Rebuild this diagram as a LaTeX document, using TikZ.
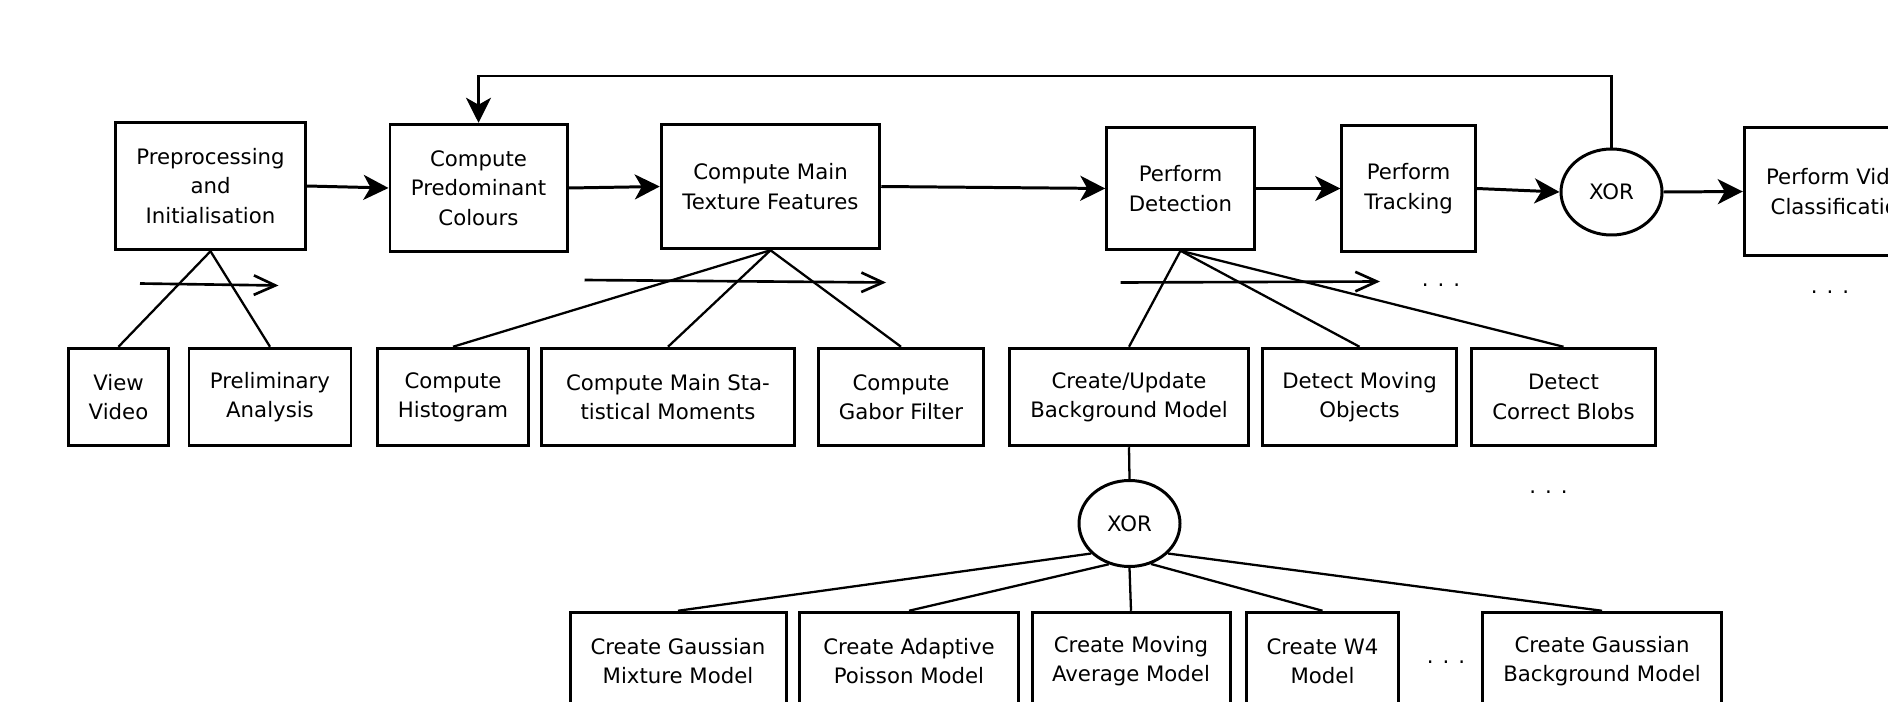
\documentclass[tikz,border=0pt]{standalone}
\usepackage{fontspec}
\setmainfont{DejaVu Sans}
\usepackage{tikz}
\usetikzlibrary{arrows.meta,shapes.geometric}

\tikzset{
  box/.style={draw, line width=1.7pt, align=center, inner sep=0pt,
    font={\fontsize{12.1}{16.7}\selectfont}},
  leaf/.style={box, minimum height=1.95cm},
  xorgate/.style={draw, ellipse, line width=1.7pt, inner sep=0pt,
    minimum width=2.02cm, minimum height=1.72cm,
    font={\fontsize{12.1}{16.7}\selectfont}},
  flow/.style={line width=1.7pt, -{Stealth[length=0.5cm,width=0.5cm,inset=0.14cm]}},
  seq/.style={line width=1.5pt, -{Straight Barb[length=0.43cm,width=0.39cm]}},
  tree/.style={line width=1.3pt},
  dots/.style={anchor=base, font={\fontsize{12.1}{16.7}\selectfont}}
}

\begin{document}
\begin{tikzpicture}
    \useasboundingbox (0,0) rectangle (37.76,14.02);
    \clip (0,0) rectangle (37.76,14.02);

    % Main steps
    \node[box, minimum width=3.79cm, minimum height=2.55cm] (pre) at (4.21,10.30) {Preprocessing\\and\\Initialisation};
    \node[box, minimum width=3.54cm, minimum height=2.55cm] (col) at (9.57,10.26) {Compute\\Predominant\\Colours};
    \node[box, minimum width=4.37cm, minimum height=2.49cm] (tex) at (15.41,10.29) {Compute Main\\Texture Features};
    \node[box, minimum width=2.95cm, minimum height=2.43cm] (det) at (23.61,10.25) {Perform\\Detection};
    \node[box, minimum width=2.67cm, minimum height=2.53cm] (trk) at (28.17,10.25) {Perform\\Tracking};
    \node[xorgate] (xor1) at (32.23,10.18) {XOR};
    \node[box, minimum width=3.87cm, minimum height=2.55cm] (cls) at (36.82,10.19) {Perform Video\\Classification};

    \draw[flow] (pre.east) -- (col.west);
    \draw[flow] (col.east) -- (tex.west);
    \draw[flow] (tex.east) -- (det.west);
    \draw[flow] (det.east) -- (trk.west);
    \draw[flow] (trk.east) -- (xor1.west);
    \draw[flow] (xor1.east) -- (cls.west);
    \draw[flow] (xor1.north) |- (9.57,12.50) -- (col.north);

    % Sub steps
    \node[leaf, minimum width=1.99cm] (vid) at (2.37,6.08) {View\\Video};
    \node[leaf, minimum width=3.24cm] (ana) at (5.40,6.08) {Preliminary\\Analysis};
    \node[leaf, minimum width=3.02cm] (his) at (9.06,6.08) {Compute\\Histogram};
    \node[leaf, minimum width=5.06cm] (mom) at (13.36,6.08) {Compute Main Sta-\\tistical Moments};
    \node[leaf, minimum width=3.29cm] (gab) at (18.02,6.08) {Compute\\Gabor Filter};
    \node[leaf, minimum width=4.78cm] (bgm) at (22.58,6.08) {Create/Update\\Background Model};
    \node[leaf, minimum width=3.89cm] (mov) at (27.19,6.08) {Detect Moving\\Objects};
    \node[leaf, minimum width=3.67cm] (blb) at (31.27,6.08) {Detect\\Correct Blobs};

    \draw[tree] (pre.south) -- (vid.north);
    \draw[tree] (pre.south) -- (ana.north);
    \draw[tree] (tex.south) -- (his.north);
    \draw[tree] (tex.south) -- (mom.north);
    \draw[tree] (tex.south) -- (gab.north);
    \draw[tree] (det.south) -- (bgm.north);
    \draw[tree] (det.south) -- (mov.north);
    \draw[tree] (det.south) -- (blb.north);

    % Order of sub steps
    \coordinate (s1a) at (2.80,8.35);  \coordinate (s1b) at (5.57,8.31);
    \coordinate (s2a) at (11.69,8.42); \coordinate (s2b) at (17.72,8.37);
    \coordinate (s3a) at (22.41,8.37); \coordinate (s3b) at (27.60,8.39);
    \draw[seq] (s1a) -- (s1b);
    \draw[seq] (s2a) -- (s2b);
    \draw[seq] (s3a) -- (s3b);

    % Background models
    \node[xorgate] (xor2) at (22.59,3.55) {XOR};
    \node[leaf, minimum width=4.32cm] (gmm) at (13.56,0.80) {Create Gaussian\\Mixture Model};
    \node[leaf, minimum width=4.37cm] (apm) at (18.18,0.80) {Create Adaptive\\Poisson Model};
    \node[leaf, minimum width=3.96cm] (mam) at (22.62,0.80) {Create Moving\\Average Model};
    \node[leaf, minimum width=3.05cm] (wfm) at (26.45,0.80) {Create W4\\Model};
    \node[leaf, minimum width=4.78cm] (gbm) at (32.04,0.80) {Create Gaussian\\Background Model};

    \draw[tree] (bgm.south) -- (xor2.north);
    \draw[tree] (xor2.-142) -- (gmm.north);
    \draw[tree] (xor2.-117) -- (apm.north);
    \draw[tree] (xor2.south) -- (mam.north);
    \draw[tree] (xor2.-62) -- (wfm.north);
    \draw[tree] (xor2.-38) -- (gbm.north);

    % Dots
    \node[dots] (d1) at (28.82,8.28) {. . .};
    \node[dots] (d2) at (36.60,8.16) {. . .};
    \node[dots] (d3) at (30.97,4.15) {. . .};
    \node[dots] (d4) at (28.92,0.75) {. . .};
\end{tikzpicture}
\end{document}
